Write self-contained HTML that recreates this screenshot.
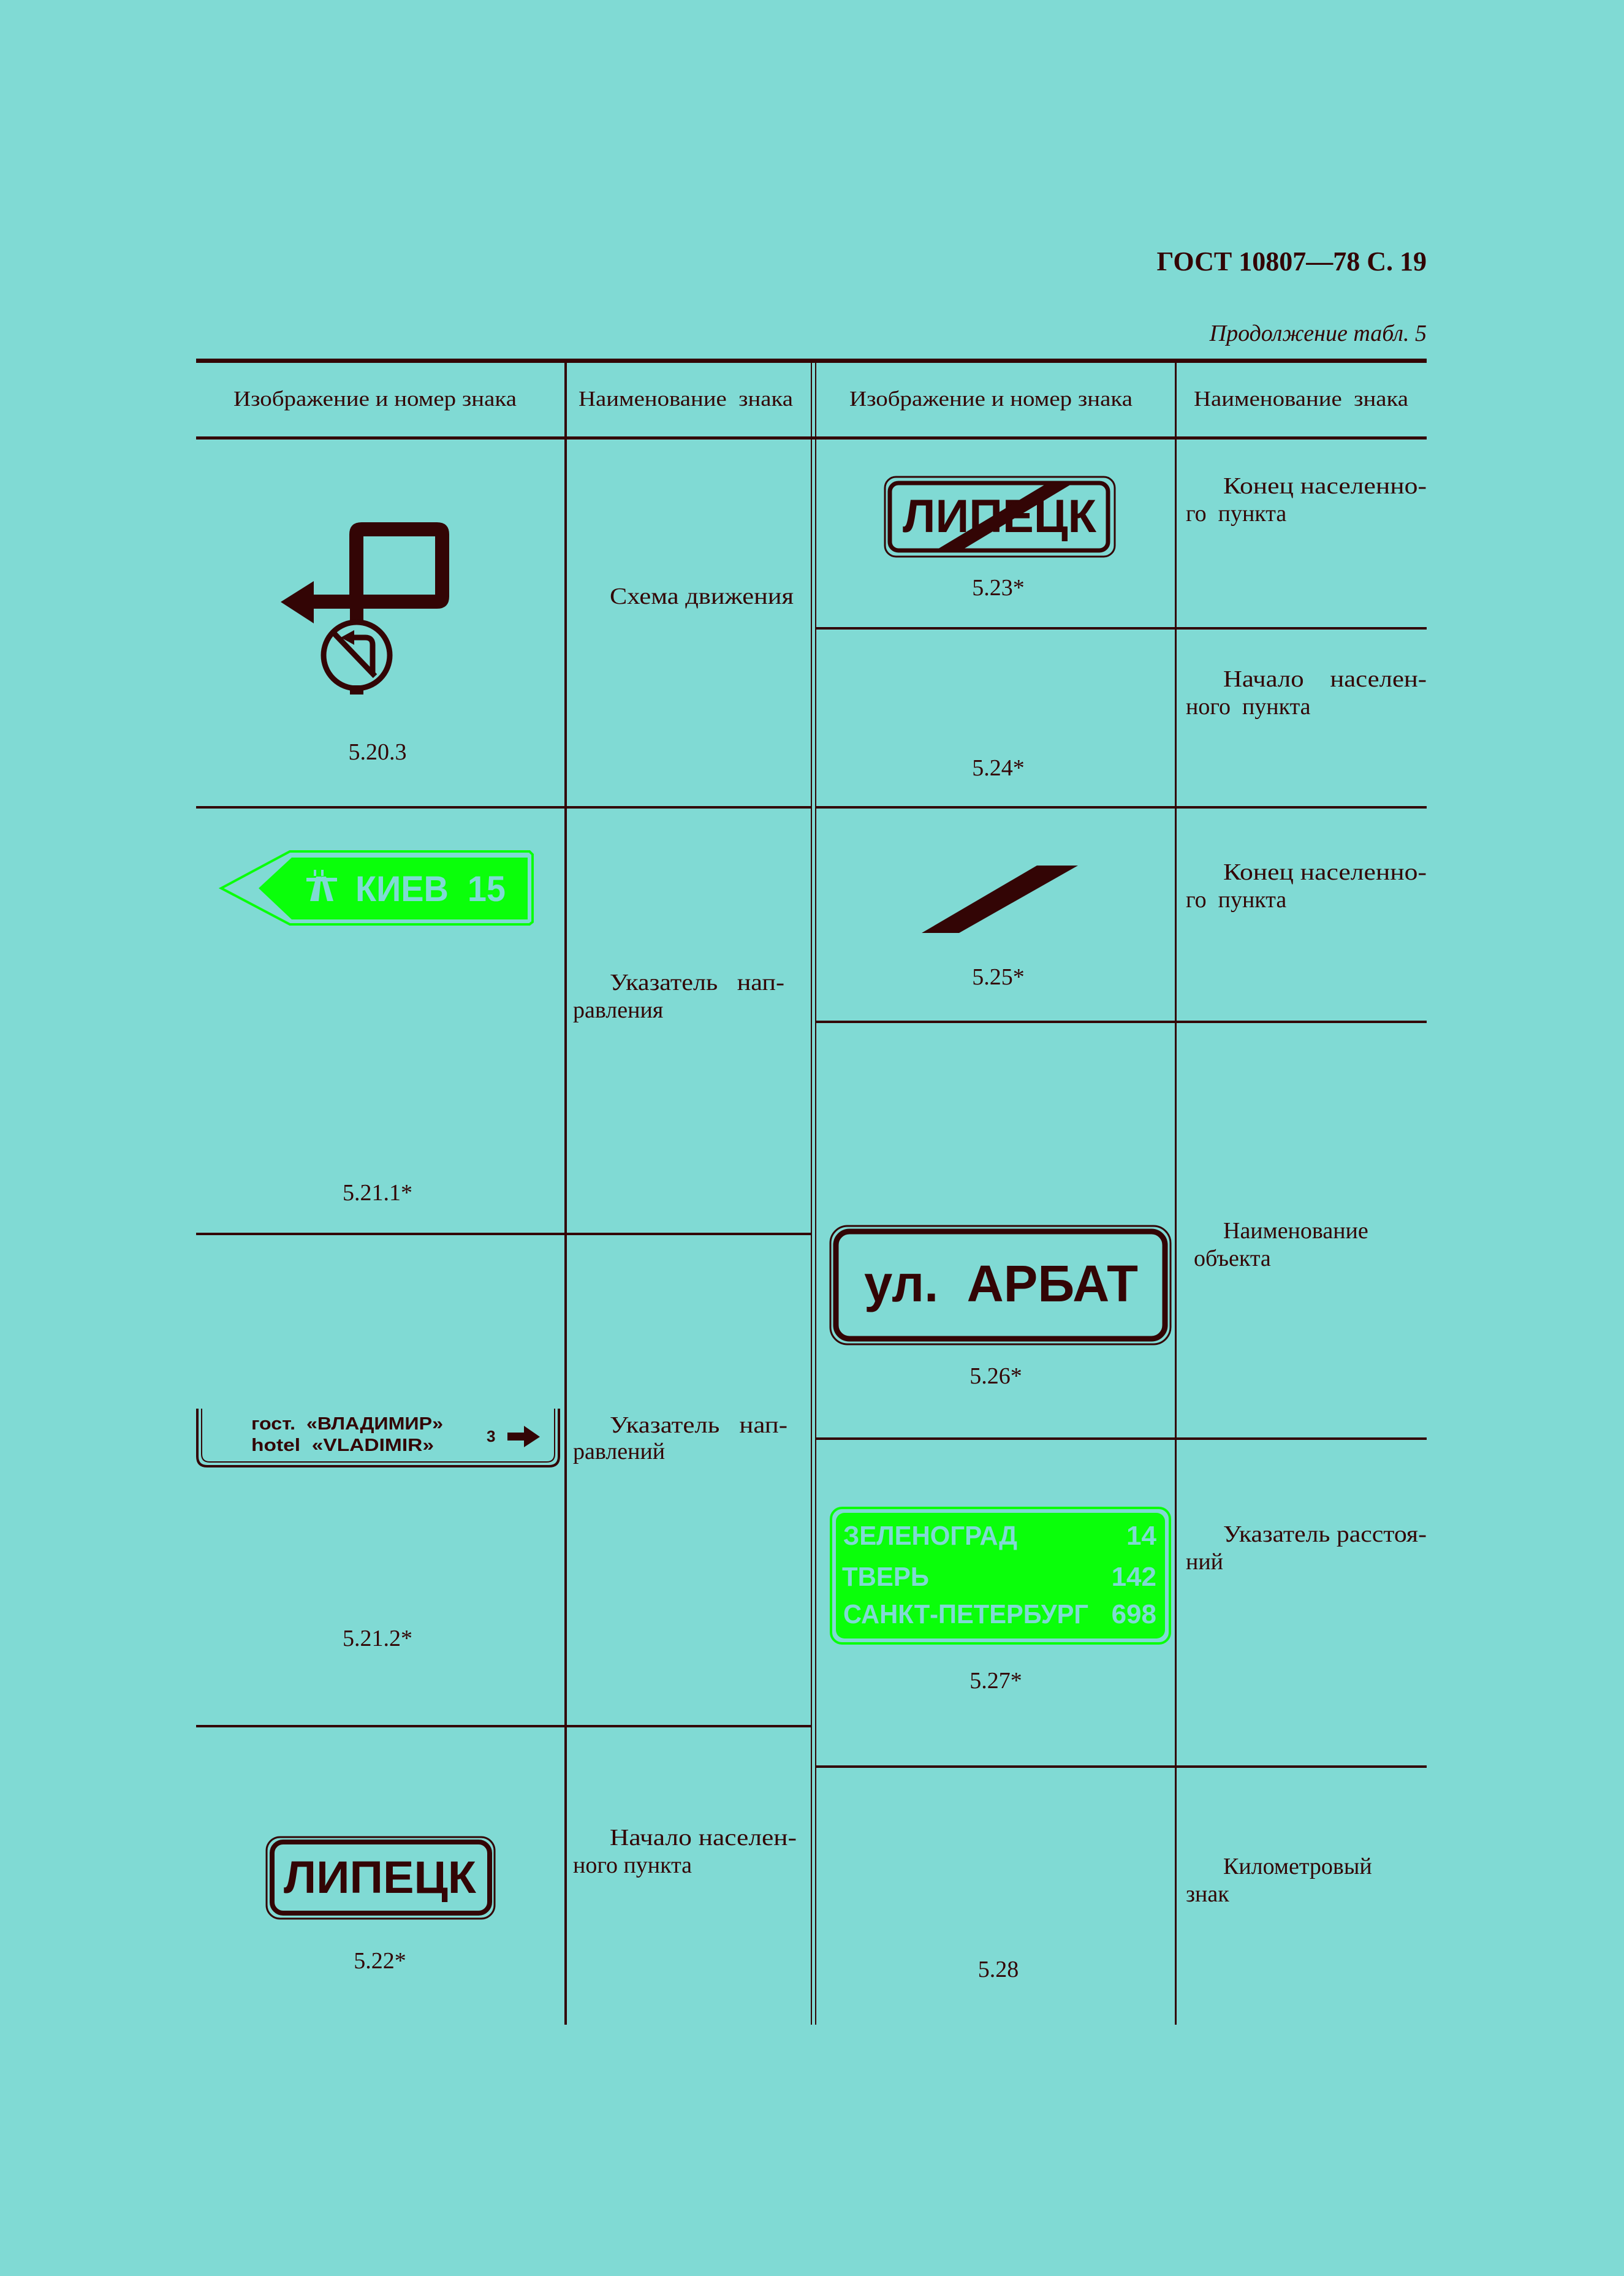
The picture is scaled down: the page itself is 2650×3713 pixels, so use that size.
<!DOCTYPE html>
<html><head><meta charset="utf-8"><style>
html,body{margin:0;padding:0;background:#80DAD4;}
svg{display:block;}
.s{font-family:"Liberation Serif","DejaVu Serif",serif;fill:#330505;}
.b{font-family:"Liberation Sans","DejaVu Sans",sans-serif;font-weight:bold;}
</style></head><body>
<svg width="2650" height="3713" viewBox="0 0 2650 3713" xmlns="http://www.w3.org/2000/svg">
<rect width="2650" height="3713" fill="#80DAD4"/>
<text class="s" x="2328" y="441" font-size="44" font-weight="bold" text-anchor="end">ГОСТ 10807—78 С. 19</text>
<text class="s" x="2328" y="556" font-size="38" font-style="italic" text-anchor="end">Продолжение табл. 5</text>

<g fill="#330505">
<rect x="320" y="585" width="2008" height="7"/>
<rect x="320" y="712" width="2008" height="5"/>
<rect x="921" y="590" width="4" height="2713"/>
<rect x="1323" y="590" width="2" height="2713"/>
<rect x="1330" y="590" width="2" height="2713"/>
<rect x="1917" y="590" width="3" height="2713"/>
<rect x="320" y="1315" width="1004" height="4"/>
<rect x="320" y="2011" width="1004" height="4"/>
<rect x="320" y="2814" width="1004" height="4"/>
<rect x="1331" y="1023" width="997" height="4"/>
<rect x="1331" y="1315" width="997" height="4"/>
<rect x="1331" y="1665" width="997" height="4"/>
<rect x="1331" y="2345" width="997" height="4"/>
<rect x="1331" y="2880" width="997" height="4"/>
</g>

<g class="s" font-size="35">
<text x="381" y="662" textLength="462" lengthAdjust="spacingAndGlyphs">Изображение и номер знака</text>
<text x="944" y="662" textLength="350" lengthAdjust="spacingAndGlyphs">Наименование&#160; знака</text>
<text x="1386" y="662" textLength="462" lengthAdjust="spacingAndGlyphs">Изображение и номер знака</text>
<text x="1948" y="662" textLength="350" lengthAdjust="spacingAndGlyphs">Наименование&#160; знака</text>
</g>

<g class="s" font-size="38">
<text x="995" y="985" textLength="300" lengthAdjust="spacingAndGlyphs">Схема движения</text>
<text x="616" y="1239" text-anchor="middle">5.20.3</text>
<text x="1996" y="805" textLength="332" lengthAdjust="spacingAndGlyphs">Конец населенно-</text>
<text x="1935" y="850">го&#160; пункта</text>
<text x="1629" y="971" text-anchor="middle">5.23*</text>
<text x="1996" y="1120" textLength="332" lengthAdjust="spacingAndGlyphs">Начало&#160;&#160;&#160; населен-</text>
<text x="1935" y="1165">ного&#160; пункта</text>
<text x="1629" y="1265" text-anchor="middle">5.24*</text>
<text x="995" y="1615" textLength="285" lengthAdjust="spacingAndGlyphs">Указатель&#160;&#160; нап-</text>
<text x="935" y="1660">равления</text>
<text x="616" y="1958" text-anchor="middle">5.21.1*</text>
<text x="1996" y="1435" textLength="332" lengthAdjust="spacingAndGlyphs">Конец населенно-</text>
<text x="1935" y="1480">го&#160; пункта</text>
<text x="1629" y="1606" text-anchor="middle">5.25*</text>
<text x="1996" y="2020">Наименование</text>
<text x="1948" y="2065">объекта</text>
<text x="1625" y="2257" text-anchor="middle">5.26*</text>
<text x="995" y="2337" textLength="290" lengthAdjust="spacingAndGlyphs">Указатель&#160;&#160; нап-</text>
<text x="935" y="2380">равлений</text>
<text x="616" y="2685" text-anchor="middle">5.21.2*</text>
<text x="1996" y="2515" textLength="332" lengthAdjust="spacingAndGlyphs">Указатель расстоя-</text>
<text x="1935" y="2560">ний</text>
<text x="1625" y="2754" text-anchor="middle">5.27*</text>
<text x="995" y="3010" textLength="305" lengthAdjust="spacingAndGlyphs">Начало населен-</text>
<text x="935" y="3055">ного пункта</text>
<text x="620" y="3211" text-anchor="middle">5.22*</text>
<text x="1996" y="3057">Километровый</text>
<text x="1935" y="3102">знак</text>
<text x="1629" y="3225" text-anchor="middle">5.28</text>
</g>

<!-- 5.20.3 -->
<g fill="#330505">
<path fill-rule="evenodd" d="M590 852 H713 Q733 852 733 872 V973 Q733 993 713 993 H512 V1017 L458 982 L512 948 V970 H570 V872 Q570 852 590 852 Z M593 875 V970 H710 V875 Z"/>
<rect x="571" y="990" width="22" height="22"/>
<rect x="571" y="1118" width="22" height="15"/>
<circle cx="582" cy="1069" r="54" fill="none" stroke="#330505" stroke-width="9"/>
<line x1="542" y1="1030" x2="612" y2="1103" stroke="#330505" stroke-width="9"/>
<path d="M608 1100 V1052 Q608 1040 596 1040 H575" fill="none" stroke="#330505" stroke-width="9"/>
<path d="M556 1040 L578 1028 L578 1052 Z"/>
</g>

<!-- 5.23 -->
<rect x="1444" y="778" width="375" height="130" rx="18" fill="none" stroke="#330505" stroke-width="3"/>
<rect x="1452" y="788" width="356" height="110" rx="14" fill="none" stroke="#330505" stroke-width="7"/>
<text class="b" x="1631" y="868" font-size="76" fill="#330505" text-anchor="middle" textLength="316" lengthAdjust="spacingAndGlyphs">ЛИПЕЦК</text>
<polygon points="1706,790 1748,790 1565,900 1523,900" fill="#330505"/>

<!-- 5.21.1 -->
<polygon points="361,1449 473,1389 864,1389 869,1394 869,1504 864,1508 473,1508" fill="none" stroke="#0AFF0A" stroke-width="4"/>
<polygon points="422,1449 476,1399 861,1399 861,1500 476,1500" fill="#0AFF0A"/>
<g fill="#80DAD4">
<rect x="512" y="1419" width="4" height="10"/>
<rect x="524" y="1419" width="4" height="10"/>
<polygon points="506,1470 516,1430 524,1430 520,1470"/>
<polygon points="534,1470 524,1430 532,1430 544,1470"/>
<rect x="500" y="1432" width="50" height="6"/>
</g>
<text class="b" x="580" y="1470" font-size="58" fill="#80DAD4" textLength="245" lengthAdjust="spacingAndGlyphs">КИЕВ&#160;&#160;15</text>

<!-- 5.25 -->
<polygon points="1692,1412 1759,1412 1565,1522 1504,1522" fill="#330505"/>

<!-- 5.21.2 -->
<path d="M322 2298 V2376 Q322 2392 338 2392 H896 Q912 2392 912 2376 V2298" fill="none" stroke="#330505" stroke-width="4"/>
<path d="M329 2298 V2372 Q329 2385 342 2385 H892 Q905 2385 905 2372 V2298" fill="none" stroke="#330505" stroke-width="2"/>
<text class="b" x="410" y="2332" font-size="29" fill="#330505" textLength="313" lengthAdjust="spacingAndGlyphs">гост.&#160;&#160;«ВЛАДИМИР»</text>
<text class="b" x="410" y="2367" font-size="29" fill="#330505" textLength="298" lengthAdjust="spacingAndGlyphs">hotel&#160;&#160;«VLADIMIR»</text>
<text class="b" x="794" y="2352" font-size="26" fill="#330505">3</text>
<polygon points="828,2337 855,2337 855,2326 881,2344 855,2361 855,2350 828,2350" fill="#330505"/>

<!-- 5.26 -->
<rect x="1355" y="2000" width="555" height="193" rx="28" fill="none" stroke="#330505" stroke-width="3"/>
<rect x="1364" y="2009" width="537" height="175" rx="22" fill="none" stroke="#330505" stroke-width="9"/>
<text class="b" x="1410" y="2123" font-size="84" fill="#330505" textLength="447" lengthAdjust="spacingAndGlyphs">ул.&#160;&#160;АРБАТ</text>

<!-- 5.27 -->
<rect x="1356" y="2460" width="553" height="221" rx="18" fill="none" stroke="#0AFF0A" stroke-width="4"/>
<rect x="1364" y="2468" width="537" height="205" rx="14" fill="#0AFF0A"/>
<g class="b" font-size="44" fill="#80DAD4">
<text x="1376" y="2520" textLength="284" lengthAdjust="spacingAndGlyphs">ЗЕЛЕНОГРАД</text>
<text x="1887" y="2520" text-anchor="end">14</text>
<text x="1374" y="2587" textLength="142" lengthAdjust="spacingAndGlyphs">ТВЕРЬ</text>
<text x="1887" y="2587" text-anchor="end">142</text>
<text x="1376" y="2648" textLength="400" lengthAdjust="spacingAndGlyphs">САНКТ-ПЕТЕРБУРГ</text>
<text x="1887" y="2648" text-anchor="end">698</text>
</g>

<!-- 5.22 -->
<rect x="435" y="2997" width="372" height="133" rx="22" fill="none" stroke="#330505" stroke-width="3"/>
<rect x="444" y="3005" width="355" height="116" rx="18" fill="none" stroke="#330505" stroke-width="8"/>
<text class="b" x="463" y="3088" font-size="74" fill="#330505" textLength="314" lengthAdjust="spacingAndGlyphs">ЛИПЕЦК</text>
</svg>
</body></html>
